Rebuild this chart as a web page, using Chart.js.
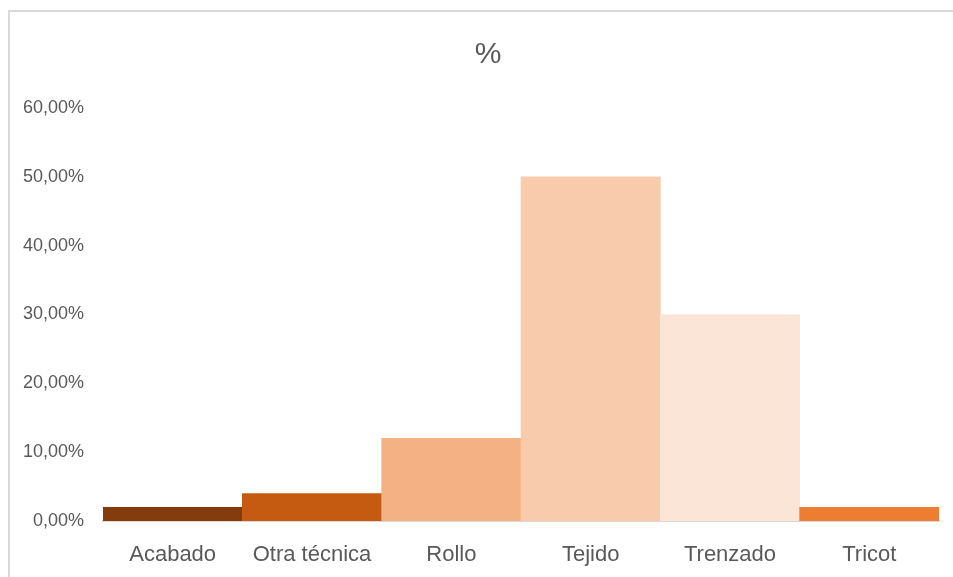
<!DOCTYPE html>
<html>
<head>
<meta charset="utf-8">
<script src="https://cdn.jsdelivr.net/npm/chart.js@4/dist/chart.umd.min.js"></script>
<style>
  html, body { margin: 0; padding: 0; background: #fff; overflow: hidden; }
  #frame {
    position: absolute; left: 8px; top: 10px; width: 980px; height: 600px;
    border: 2px solid #d9d9d9; box-sizing: border-box;
  }
  #wrap { position: absolute; left: 0; top: 0; width: 953px; height: 577px; }
</style>
</head>
<body>
<div id="frame"></div>
<div id="wrap"><canvas id="pct-chart"></canvas></div>
<script>
const categories = ['Acabado', 'Otra técnica', 'Rollo', 'Tejido', 'Trenzado', 'Tricot'];
const shares = [0.02, 0.04, 0.12, 0.50, 0.30, 0.02];
const barColors = ['#843c0c', '#c55a11', '#f4b183', '#f8cbad', '#fbe5d6', '#ed7d31'];
const yTicks = [0, 0.1, 0.2, 0.3, 0.4, 0.5, 0.6];
const chartTitle = '%';

const FONT = "'Liberation Sans', Arial, sans-serif";
const TEXT = '#595959';

function formatPct(v) {
    return (v * 100).toFixed(2).replace('.', ',') + '%';
}

// title sits a bit right of the canvas centre, like the original sheet chart
const titlePlugin = {
    id: 'offsetTitle',
    afterDraw(chart) {
        const { ctx } = chart;
        ctx.save();
        ctx.font = `30px ${FONT}`;
        ctx.fillStyle = TEXT;
        ctx.textAlign = 'center';
        ctx.textBaseline = 'middle';
        ctx.fillText(chartTitle, 488, 55);
        ctx.restore();
    },
};

new Chart(document.getElementById('pct-chart').getContext('2d'), {
    type: 'bar',
    data: {
        labels: categories,
        datasets: [
            {
                label: chartTitle,
                data: shares,
                backgroundColor: barColors,
                borderWidth: 0,
                barPercentage: 1,
                categoryPercentage: 1,
            },
        ],
    },
    plugins: [titlePlugin],
    options: {
        responsive: true,
        maintainAspectRatio: false,
        animation: false,
        layout: { padding: { left: 0, right: 14, top: 108, bottom: 0 } },
        plugins: {
            legend: { display: false },
            tooltip: { enabled: false },
            title: { display: false },
        },
        scales: {
            x: {
                grid: { display: false, drawTicks: false },
                border: { display: true, color: '#d9d9d9', width: 2 },
                ticks: {
                    color: TEXT,
                    font: { family: FONT, size: 22 },
                    padding: 21,
                    maxRotation: 0,
                },
                afterFit: (scale) => { scale.height = 56; },
            },
            y: {
                min: 0,
                max: 0.6,
                grid: { display: false, drawTicks: false },
                border: { display: false },
                afterBuildTicks: (scale) => {
                    scale.ticks = yTicks.map((v) => ({ value: v }));
                },
                ticks: {
                    color: TEXT,
                    font: { family: FONT, size: 18 },
                    padding: 19,
                    callback: (v) => formatPct(v),
                },
                afterFit: (scale) => { scale.width = 103; },
            },
        },
    },
});
</script>
</body>
</html>
